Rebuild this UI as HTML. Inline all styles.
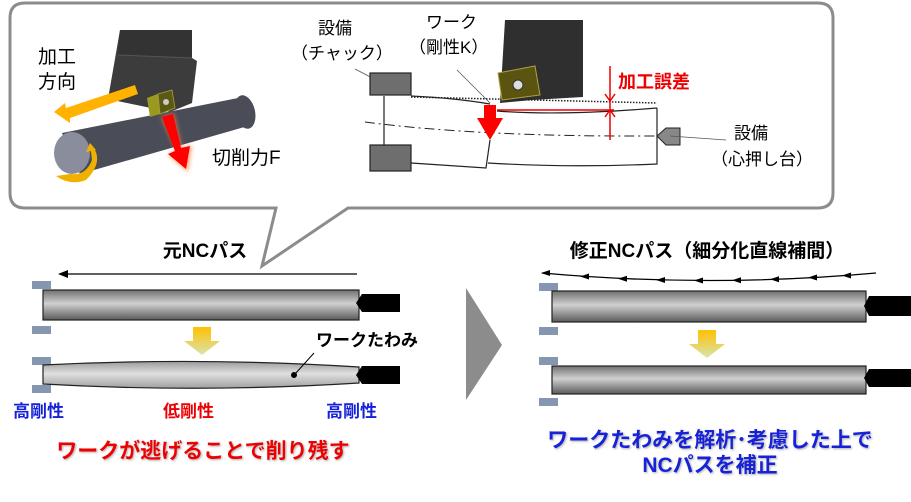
<!DOCTYPE html>
<html><head><meta charset="utf-8"><style>
html,body{margin:0;padding:0;background:#fff;}
svg{display:block;}
text{font-family:"Liberation Sans","Noto Sans CJK JP",sans-serif;}
.b{font-weight:bold;}
</style></head><body>
<svg width="911" height="502" viewBox="0 0 911 502" xmlns="http://www.w3.org/2000/svg">
<defs>
<linearGradient id="bar" x1="0" y1="0" x2="0" y2="1">
<stop offset="0" stop-color="#707070"/><stop offset="0.45" stop-color="#d0d0d0"/><stop offset="1" stop-color="#5a5a5a"/></linearGradient>
<linearGradient id="bar2" x1="0" y1="0" x2="0" y2="1">
<stop offset="0" stop-color="#9a9a9a"/><stop offset="0.45" stop-color="#e0e0e0"/><stop offset="1" stop-color="#a0a0a0"/></linearGradient>
<linearGradient id="yel" x1="0" y1="0" x2="0" y2="1">
<stop offset="0" stop-color="#ffc000"/><stop offset="1" stop-color="#d8e4b0"/></linearGradient>
<filter id="sh"><feDropShadow dx="1" dy="1" stdDeviation="1" flood-color="#888" flood-opacity="0.7"/></filter>
<filter id="glow"><feGaussianBlur stdDeviation="2"/></filter>
</defs>

<!-- callout -->
<path d="M25,3 H818 Q833,3 833,18 V193 Q833,208 818,208 H348 L262,266 L276,208 H25 Q10,208 10,193 V18 Q10,3 25,3 Z" fill="#fff" stroke="#8c8c8c" stroke-width="3"/>

<!-- 3D scene -->
<polygon points="120,30 192,30 192,58 197,61 192,103 170,112 108,99" fill="#3c3c3c"/>
<polygon points="120,30 192,30 192,58 118,55" fill="#333"/>
<line x1="118" y1="55" x2="192" y2="58" stroke="#555"/>
<polygon points="62,133 238,98 252,112 248,126 80,174" fill="#4a4d58"/>
<ellipse cx="245" cy="112" rx="10" ry="17" fill="#4a4d58" transform="rotate(-13 245 112)"/>
<ellipse cx="72" cy="153" rx="18" ry="21" fill="#8a8d9c"/>
<polygon points="147,98 160,93 160,114 150,117" fill="#9a9a20"/>
<polygon points="158,94 172,90 175,108 160,114" fill="#5a5a12" stroke="#aaa040" stroke-width="0.8"/>
<circle cx="166" cy="102" r="3" fill="#ccc"/>
<polygon points="135,85 138,94 70,118 70,123 54,112 65,103 66,108" fill="#ffb300"/>
<polygon points="161,117 174,113 182,148 192,145 188,172 168,155 176,151" fill="#ff8040" filter="url(#glow)" opacity="0.7"/>
<polygon points="162,117 173,114 181,148 190,146 186,169 168,154 175,151" fill="#ff0000"/>
<path d="M90,143 Q106,160 86,180 Q70,186 56,176 L70,174 Q86,176 92,160 Z" fill="#f0b000"/>
<polygon points="90,143 96,150 86,152" fill="#f0b000"/>
<text x="38" y="63" font-size="19">加工</text>
<text x="38" y="88" font-size="19">方向</text>
<text x="212" y="164" font-size="19">切削力F</text>

<!-- schematic -->
<text x="318" y="34" font-size="17">設備</text>
<text x="291" y="59" font-size="17">（チャック）</text>
<text x="426" y="28" font-size="17">ワーク</text>
<text x="409" y="53" font-size="17">（剛性K）</text>
<line x1="355" y1="69" x2="380" y2="82" stroke="#555" stroke-width="0.8"/>
<line x1="457" y1="70" x2="490" y2="103" stroke="#555" stroke-width="0.8"/>
<polygon points="505,20 583,20 583,97 532,100 500,103" fill="#2f2f2f"/>
<rect x="370" y="73" width="41" height="22" fill="#6e6e6e" stroke="#222" stroke-width="1.2"/>
<rect x="370" y="145" width="41" height="26" fill="#6e6e6e" stroke="#222" stroke-width="1.2"/>
<line x1="384" y1="96" x2="384" y2="145" stroke="#222" stroke-width="1.2"/>
<path d="M411,96 Q455,98 490,104" fill="none" stroke="#222" stroke-width="1.2"/>
<path d="M497,111 Q560,116 657,108" fill="none" stroke="#222" stroke-width="1.2"/>
<path d="M411,163 L486,168 L490,140" fill="none" stroke="#222" stroke-width="1.2"/>
<path d="M488,163 Q570,168 657,164 V108" fill="none" stroke="#222" stroke-width="1.2"/>
<line x1="411" y1="97" x2="657" y2="103" stroke="#222" stroke-width="1.5" stroke-dasharray="1.5,1.5"/>
<path d="M365,122 Q480,137 657,136" fill="none" stroke="#222" stroke-width="1" stroke-dasharray="10,4,2,4"/>
<polygon points="498,73 535,66 540,95 502,100" fill="#5a5410" stroke="#b0a040" stroke-width="1"/>
<circle cx="518" cy="85" r="5" fill="#ddd" stroke="#333"/>
<line x1="497" y1="110" x2="614" y2="110" stroke="#e00" stroke-width="1.5"/>
<line x1="610" y1="66" x2="610" y2="140" stroke="#e00" stroke-width="1.5"/>
<polyline points="605,94 610,101 615,94" fill="none" stroke="#e00" stroke-width="1.5"/>
<polyline points="605,117 610,110 615,117" fill="none" stroke="#e00" stroke-width="1.5"/>
<polygon points="484,105 496,105 496,118 503,118 490,140 477,118 484,118" fill="#f00"/>
<text x="618" y="88" font-size="18" class="b" fill="#e00">加工誤差</text>
<polygon points="657,136 666,128 680,128 680,145 666,145" fill="#888" stroke="#222"/>
<line x1="670" y1="136" x2="726" y2="140" stroke="#555" stroke-width="0.8"/>
<text x="734" y="139" font-size="17">設備</text>
<text x="711" y="165" font-size="17">（心押し台）</text>

<!-- bottom left -->
<text x="205" y="257" font-size="19" class="b" text-anchor="middle">元NCパス</text>
<line x1="62" y1="274" x2="357" y2="274" stroke="#000" stroke-width="1.3"/>
<polygon points="58,274 68,270 68,278" fill="#000"/>
<rect x="32" y="281" width="19" height="8" fill="#8496b0"/>
<rect x="32" y="326" width="19" height="8" fill="#8496b0"/>
<rect x="43" y="290" width="316" height="30" fill="url(#bar)" stroke="#222" stroke-width="1.2"/>
<polygon points="362,294 400,294 400,312 362,312 356,303" fill="#000"/>
<polygon points="193,327 211,327 211,341 220,341 202,355 184,341 193,341" fill="url(#yel)"/>
<rect x="32" y="357" width="19" height="8" fill="#8496b0"/>
<rect x="32" y="385" width="19" height="8" fill="#8496b0"/>
<path d="M43,365 Q200,357 359,367 L359,383 Q200,393 43,384 Z" fill="url(#bar2)" stroke="#222" stroke-width="1.2"/>
<polygon points="362,366 400,366 400,384 362,384 356,375" fill="#000"/>
<line x1="314" y1="353" x2="295" y2="374" stroke="#000" stroke-width="1"/>
<circle cx="294" cy="375" r="3" fill="#000"/>
<text x="316" y="346" font-size="17" class="b">ワークたわみ</text>
<text x="13" y="417" font-size="17" class="b" fill="#1520d8">高剛性</text>
<text x="163" y="417" font-size="17" class="b" fill="#e00">低剛性</text>
<text x="326" y="417" font-size="17" class="b" fill="#1520d8">高剛性</text>
<text x="203" y="458" font-size="21" class="b" fill="#e00" text-anchor="middle" filter="url(#sh)">ワークが逃げることで削り残す</text>

<!-- chevron -->
<polygon points="466,288 502,345 466,400" fill="#8c8c8c"/>

<!-- bottom right -->
<text x="707" y="257" font-size="19" class="b" text-anchor="middle">修正NCパス（細分化直線補間）</text>
<path d="M876,273 Q710,288 542,273" fill="none" stroke="#000" stroke-width="1.3"/>
<g fill="#000">
<polygon points="541,273 550,270 550,276"/>
<polygon points="580,276.5 589,273.5 589,279.5"/>
<polygon points="618,278.8 627,275.8 627,281.8"/>
<polygon points="656,280 665,277 665,283"/>
<polygon points="694,280.5 703,277.5 703,283.5"/>
<polygon points="732,280.3 741,277.3 741,283.3"/>
<polygon points="770,279.3 779,276.3 779,282.3"/>
<polygon points="808,277.5 817,274.5 817,280.5"/>
<polygon points="842,275.5 851,272.5 851,278.5"/>
</g>
<rect x="539" y="283" width="19" height="8" fill="#8496b0"/>
<rect x="539" y="327" width="19" height="8" fill="#8496b0"/>
<rect x="552" y="291" width="314" height="31" fill="url(#bar)" stroke="#222" stroke-width="1.2"/>
<polygon points="869,296 911,296 911,316 869,316 864,306" fill="#000"/>
<polygon points="698,330 716,330 716,344 725,344 707,358 689,344 698,344" fill="url(#yel)"/>
<rect x="539" y="357" width="19" height="8" fill="#8496b0"/>
<rect x="539" y="398" width="19" height="8" fill="#8496b0"/>
<rect x="552" y="366" width="314" height="28" fill="url(#bar)" stroke="#222" stroke-width="1.2"/>
<polygon points="869,369 911,369 911,387 869,387 864,378" fill="#000"/>
<text x="710" y="447" font-size="21" class="b" fill="#1520d8" text-anchor="middle" filter="url(#sh)">ワークたわみを解析･考慮した上で</text>
<text x="710" y="472" font-size="21" class="b" fill="#1520d8" text-anchor="middle" filter="url(#sh)">NCパスを補正</text>
</svg>
</body></html>
